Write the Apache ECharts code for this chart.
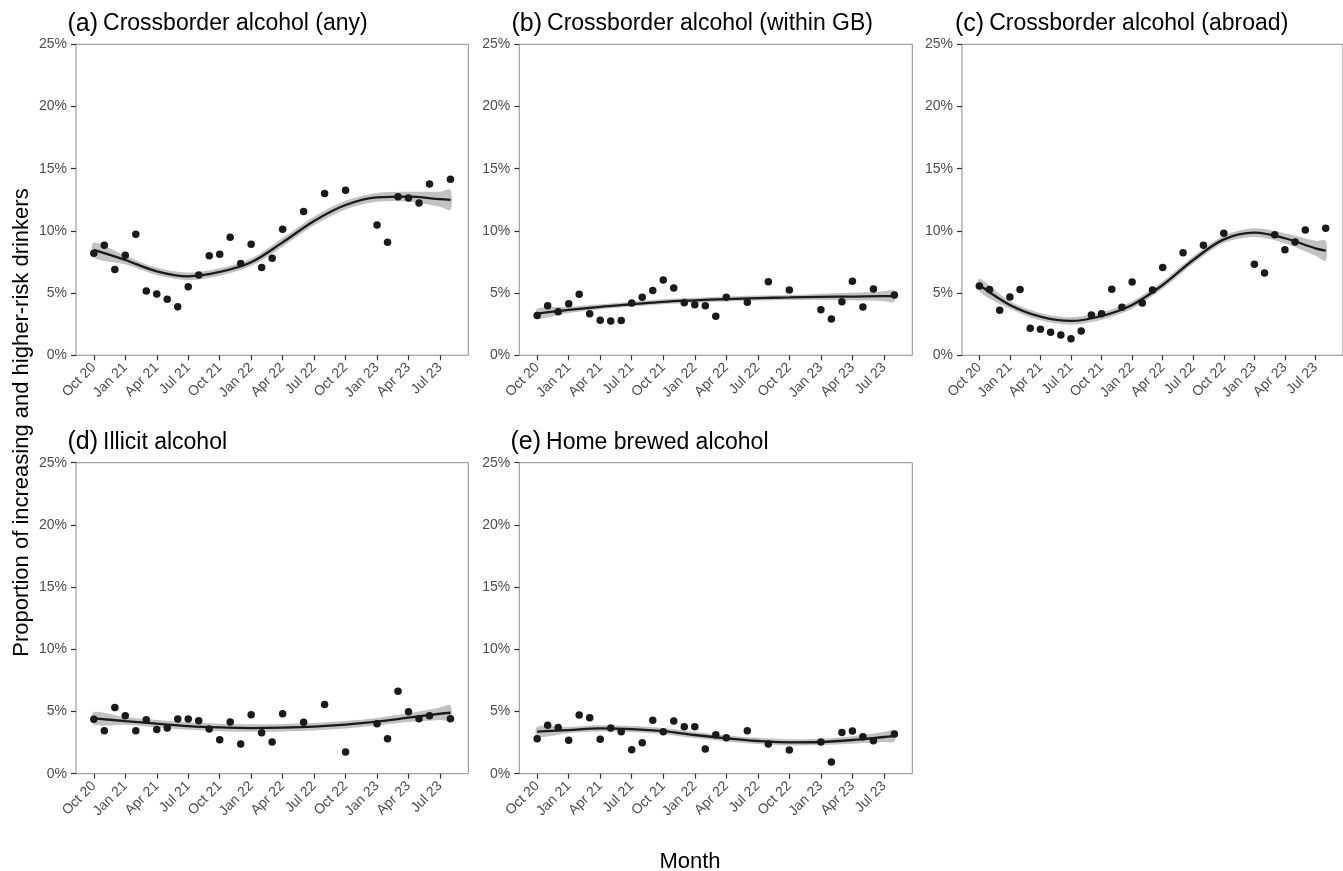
<!DOCTYPE html>
<html>
<head>
<meta charset="utf-8">
<script src="https://cdn.jsdelivr.net/npm/echarts@6/dist/echarts.min.js"></script>
<style>
html,body{margin:0;padding:0;background:#fff;}
#chart{width:1343px;height:871px;}
</style>
</head>
<body>
<div id="chart"></div>
<script>
// ---- Data ----
const tickMonths = [0, 3, 6, 9, 12, 15, 18, 21, 24, 27, 30, 33];
const tickLabels = ["Oct 20", "Jan 21", "Apr 21", "Jul 21", "Oct 21", "Jan 22", "Apr 22", "Jul 22", "Oct 22", "Jan 23", "Apr 23", "Jul 23"];
// month index (0 = Oct 2020) of each survey month with data
const monthIdx = [0, 1, 2, 3, 4, 5, 6, 7, 8, 9, 10, 11, 12, 13, 14, 15, 16, 17, 18, 20, 22, 24, 27, 28, 29, 30, 31, 32, 34];
const fitMonths = [0, 3, 6, 9, 12, 15, 18, 21, 24, 27, 30, 33, 34];

const panelTags = ["(a)", "(b)", "(c)", "(d)", "(e)"];
const panelNames = ["Crossborder alcohol (any)", "Crossborder alcohol (within GB)", "Crossborder alcohol (abroad)", "Illicit alcohol", "Home brewed alcohol"];

const crossAny = [8.2, 8.84, 6.89, 8.04, 9.73, 5.17, 4.93, 4.5, 3.91, 5.52, 6.46, 8.01, 8.12, 9.49, 7.37, 8.92, 7.05, 7.8, 10.13, 11.55, 13.0, 13.26, 10.48, 9.08, 12.75, 12.65, 12.25, 13.77, 14.15];
const crossGB = [3.19, 3.99, 3.51, 4.15, 4.90, 3.35, 2.81, 2.76, 2.79, 4.21, 4.66, 5.20, 6.06, 5.41, 4.23, 4.07, 3.99, 3.14, 4.66, 4.26, 5.92, 5.25, 3.67, 2.92, 4.31, 5.95, 3.89, 5.33, 4.85];
const crossAbroad = [5.57, 5.28, 3.62, 4.69, 5.28, 2.17, 2.09, 1.85, 1.63, 1.34, 1.96, 3.24, 3.35, 5.31, 3.86, 5.89, 4.21, 5.25, 7.05, 8.25, 8.84, 9.81, 7.32, 6.62, 9.70, 8.49, 9.11, 10.08, 10.21];
const illicit = [4.37, 3.46, 5.33, 4.66, 3.46, 4.34, 3.56, 3.67, 4.39, 4.39, 4.26, 3.59, 2.73, 4.15, 2.38, 4.74, 3.30, 2.55, 4.82, 4.13, 5.57, 1.74, 4.02, 2.81, 6.62, 4.98, 4.42, 4.66, 4.42];
const homeBrew = [2.81, 3.89, 3.72, 2.68, 4.72, 4.50, 2.76, 3.67, 3.38, 1.93, 2.49, 4.29, 3.38, 4.23, 3.78, 3.78, 1.98, 3.13, 2.89, 3.46, 2.38, 1.90, 2.55, 0.94, 3.32, 3.43, 2.97, 2.65, 3.19];

// smoothed trend and half-width of its 95% band
const fitAny = [8.47, 7.66, 6.75, 6.35, 6.7, 7.48, 9.08, 10.8, 12.08, 12.7, 12.75, 12.55, 12.5];
const seAny = [0.6, 0.35, 0.3, 0.3, 0.3, 0.3, 0.35, 0.35, 0.35, 0.35, 0.4, 0.6, 0.8];
const fitGB = [3.35, 3.65, 3.9, 4.1, 4.3, 4.42, 4.52, 4.6, 4.65, 4.7, 4.72, 4.75, 4.75];
const seGB = [0.4, 0.25, 0.2, 0.2, 0.2, 0.2, 0.2, 0.2, 0.2, 0.25, 0.3, 0.4, 0.45];
const fitAbroad = [5.65, 4.05, 3.11, 2.76, 3.16, 4.05, 5.65, 7.66, 9.32, 9.86, 9.41, 8.6, 8.41];
const seAbroad = [0.5, 0.3, 0.3, 0.3, 0.3, 0.3, 0.3, 0.3, 0.3, 0.35, 0.4, 0.6, 0.8];
const fitIllicit = [4.45, 4.23, 4.02, 3.83, 3.72, 3.67, 3.70, 3.78, 3.94, 4.18, 4.5, 4.82, 4.9];
const seIllicit = [0.5, 0.3, 0.3, 0.3, 0.3, 0.3, 0.3, 0.3, 0.3, 0.3, 0.35, 0.5, 0.6];
const fitHome = [3.38, 3.51, 3.64, 3.59, 3.43, 3.11, 2.84, 2.63, 2.52, 2.55, 2.71, 2.95, 3.03];
const seHome = [0.4, 0.25, 0.25, 0.25, 0.25, 0.25, 0.25, 0.25, 0.25, 0.25, 0.3, 0.4, 0.45];

// ---- Layout ----
const FONT = "'Liberation Sans', Arial, Helvetica, sans-serif";
const panelVals = [crossAny, crossGB, crossAbroad, illicit, homeBrew];
const panelFit = [fitAny, fitGB, fitAbroad, fitIllicit, fitHome];
const panelSe = [seAny, seGB, seAbroad, seIllicit, seHome];
const grids = [
  {left: 76, top: 44.3, width: 392.3, height: 311},
  {left: 519.3, top: 44.3, width: 393, height: 311},
  {left: 962, top: 44.3, width: 392.5, height: 311},
  {left: 76, top: 462.7, width: 392.3, height: 311},
  {left: 519.3, top: 462.7, width: 393, height: 311}
];
const titlePos = [
  {left: 67.5, top: 9},
  {left: 511.5, top: 9},
  {left: 955, top: 9},
  {left: 67.5, top: 427.5},
  {left: 510.5, top: 427.5}
];

const option = {
  backgroundColor: '#ffffff',
  animation: false,
  title: [],
  grid: [],
  xAxis: [],
  yAxis: [],
  series: [],
  graphic: [
    {type: 'text', x: 22, y: 422.5, rotation: Math.PI / 2,
     style: {text: 'Proportion of increasing and higher-risk drinkers', font: '22px ' + FONT, fill: '#000', align: 'center', verticalAlign: 'middle'}},
    {type: 'text', x: 690, y: 862,
     style: {text: 'Month', font: '22px ' + FONT, fill: '#000', align: 'center', verticalAlign: 'middle'}}
  ]
};

function bandRenderer(lo, hi) {
  return function (params, api) {
    if (params.dataIndex !== 0) return null;
    const pts = [];
    for (let i = 0; i < fitMonths.length; i++) pts.push(api.coord([fitMonths[i], hi[i]]));
    for (let i = fitMonths.length - 1; i >= 0; i--) pts.push(api.coord([fitMonths[i], lo[i]]));
    return {
      type: 'polygon',
      shape: {points: pts, smooth: 0.3},
      style: {fill: 'rgba(153,153,153,0.6)', stroke: null},
      silent: true
    };
  };
}

for (let p = 0; p < 5; p++) {
  const g = grids[p];
  option.grid.push({left: g.left, top: g.top, width: g.width, height: g.height, show: true,
    borderColor: '#8c8c8c', borderWidth: 1, backgroundColor: '#fff', containLabel: false});
  option.title.push({
    left: titlePos[p].left, top: titlePos[p].top, padding: 0,
    text: '{tag|' + panelTags[p] + '} {main|' + panelNames[p] + '}',
    textStyle: {fontWeight: 'normal', rich: {
      tag: {fontFamily: FONT, fontSize: 25, fontWeight: 'normal', color: '#000', lineHeight: 30},
      main: {fontFamily: FONT, fontSize: 23, fontWeight: 'normal', color: '#000', lineHeight: 30}
    }}
  });
  option.xAxis.push({
    gridIndex: p, type: 'value', min: -1.7, max: 35.7,
    axisLine: {show: false, onZero: false},
    splitLine: {show: false},
    axisTick: {show: true, length: 5, customValues: tickMonths, lineStyle: {color: '#333', width: 1.2}},
    axisLabel: {show: true, customValues: tickMonths, rotate: 45, margin: 10,
      fontFamily: FONT, fontSize: 14, color: '#4d4d4d',
      formatter: function (v) { const i = tickMonths.indexOf(Math.round(v)); return i >= 0 ? tickLabels[i] : ''; }}
  });
  option.yAxis.push({
    gridIndex: p, type: 'value', min: 0, max: 25, interval: 5,
    axisLine: {show: false, onZero: false},
    splitLine: {show: false},
    axisTick: {show: true, length: 5, lineStyle: {color: '#333', width: 1.2}},
    axisLabel: {margin: 9, fontFamily: FONT, fontSize: 14, color: '#4d4d4d', formatter: '{value}%'}
  });
  const fit = panelFit[p], se = panelSe[p], vals = panelVals[p];
  const lo = fit.map((f, i) => f - se[i]);
  const hi = fit.map((f, i) => f + se[i]);
  option.series.push({
    type: 'custom', xAxisIndex: p, yAxisIndex: p,
    data: fitMonths.map((m, i) => [m, lo[i], hi[i]]),
    encode: {x: 0, y: [1, 2]},
    renderItem: bandRenderer(lo, hi), z: 1, silent: true
  });
  option.series.push({
    type: 'line', xAxisIndex: p, yAxisIndex: p, data: fitMonths.map((m, i) => [m, fit[i]]),
    smooth: 0.35, showSymbol: false, symbol: 'none', lineStyle: {color: '#1a1a1a', width: 2.3}, z: 3, silent: true
  });
  option.series.push({
    type: 'scatter', xAxisIndex: p, yAxisIndex: p, data: monthIdx.map((m, i) => [m, vals[i]]),
    symbol: 'circle', symbolSize: 7.5, itemStyle: {color: '#1a1a1a', opacity: 1}, z: 4, silent: true
  });
}

const chart = echarts.init(document.getElementById('chart'), null, {renderer: 'canvas'});
chart.setOption(option);
</script>
</body>
</html>
